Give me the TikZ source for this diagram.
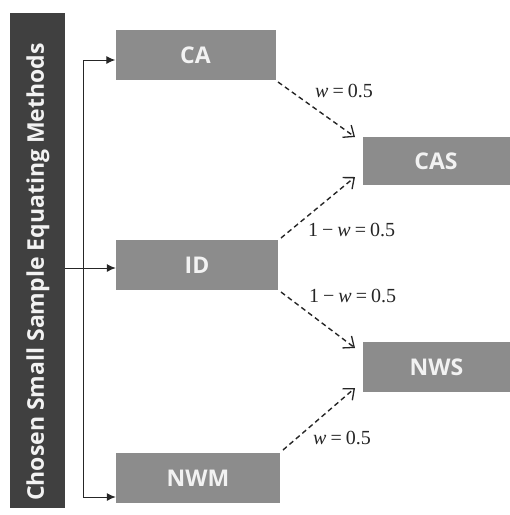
\documentclass[tikz,border=0pt]{standalone}
\usepackage{fontspec}
\setmainfont{Liberation Serif}
\newfontfamily\boxfont{Open Sans}
\usetikzlibrary{arrows.meta}
\definecolor{boxgray}{HTML}{8C8C8C}
\definecolor{bargray}{HTML}{404040}
\tikzset{
  x=1pt,y=-1pt,
  method/.style={fill=boxgray,draw=none,font=\boxfont\bfseries\fontsize{23}{26}\selectfont,text=white!95!black,inner sep=0pt},
  solidarrow/.style={-{Latex[length=9pt,width=8pt]},line width=1pt,black!85},
  dasharrow/.style={-{Straight Barb[length=9pt,width=15pt,line width=1.3pt]},dash pattern=on 5pt off 3.5pt,line width=1.4pt,black!85},
  wlabel/.style={font=\fontsize{20}{22}\selectfont,inner sep=0pt,text=black!85}
}
\newcommand{\wsp}{\hspace{4pt}}
\begin{document}
\begin{tikzpicture}
\useasboundingbox (0,0) rectangle (510,515);
% dark bar
\node[fill=bargray,minimum width=55pt,minimum height=495pt,inner sep=0pt,anchor=north west] (bar) at (10,13) {};
\node[rotate=90,text=white!95!black,font=\boxfont\bfseries\fontsize{23}{26}\selectfont] (bartext) at (38,272) {Chosen Small Sample Equating Methods};
% method boxes
\node[method,minimum width=160pt,minimum height=50pt] (CA) at (195.5,55) {CA};
\node[method,minimum width=162pt,minimum height=50pt] (ID) at (197,265) {ID};
\node[method,minimum width=164pt,minimum height=50pt] (NWM) at (198,478) {NWM};
\node[method,minimum width=147pt,minimum height=48pt] (CAS) at (436,161) {CAS};
\node[method,minimum width=147pt,minimum height=50pt] (NWS) at (436.5,367) {NWS};
% tree connectors
\coordinate (top) at (83,60);
\coordinate (bot) at (83,497);
\coordinate (mid) at (65,268);
\draw[line width=1pt,black!85] (top) -- (bot);
\draw[solidarrow] (top) -- (CA.west |- top);
\draw[solidarrow] (bot) -- (NWM.west |- bot);
\draw[solidarrow] (mid) -- (ID.west |- mid);
% dashed weighted arrows
\coordinate (caA) at (278,82);
\coordinate (caS) at (355,137);
\coordinate (idA) at (281,238);
\coordinate (caE) at (355,177);
\coordinate (idB) at (281,292);
\coordinate (nwN) at (355,348);
\coordinate (nmA) at (283,450);
\coordinate (nwE) at (355,388);
\draw[dasharrow] (caA) -- (caS);
\draw[dasharrow] (idA) -- (caE);
\draw[dasharrow] (idB) -- (nwN);
\draw[dasharrow] (nmA) -- (nwE);
% labels
\node[wlabel,anchor=west] (l1) at (315,91) {\textit{w}\wsp=\wsp0.5};
\node[wlabel,anchor=west] (l2) at (308,230) {1\wsp−\wsp\textit{w}\wsp=\wsp0.5};
\node[wlabel,anchor=west] (l3) at (309,296) {1\wsp−\wsp\textit{w}\wsp=\wsp0.5};
\node[wlabel,anchor=west] (l4) at (313,438) {\textit{w}\wsp=\wsp0.5};
\end{tikzpicture}
\end{document}
